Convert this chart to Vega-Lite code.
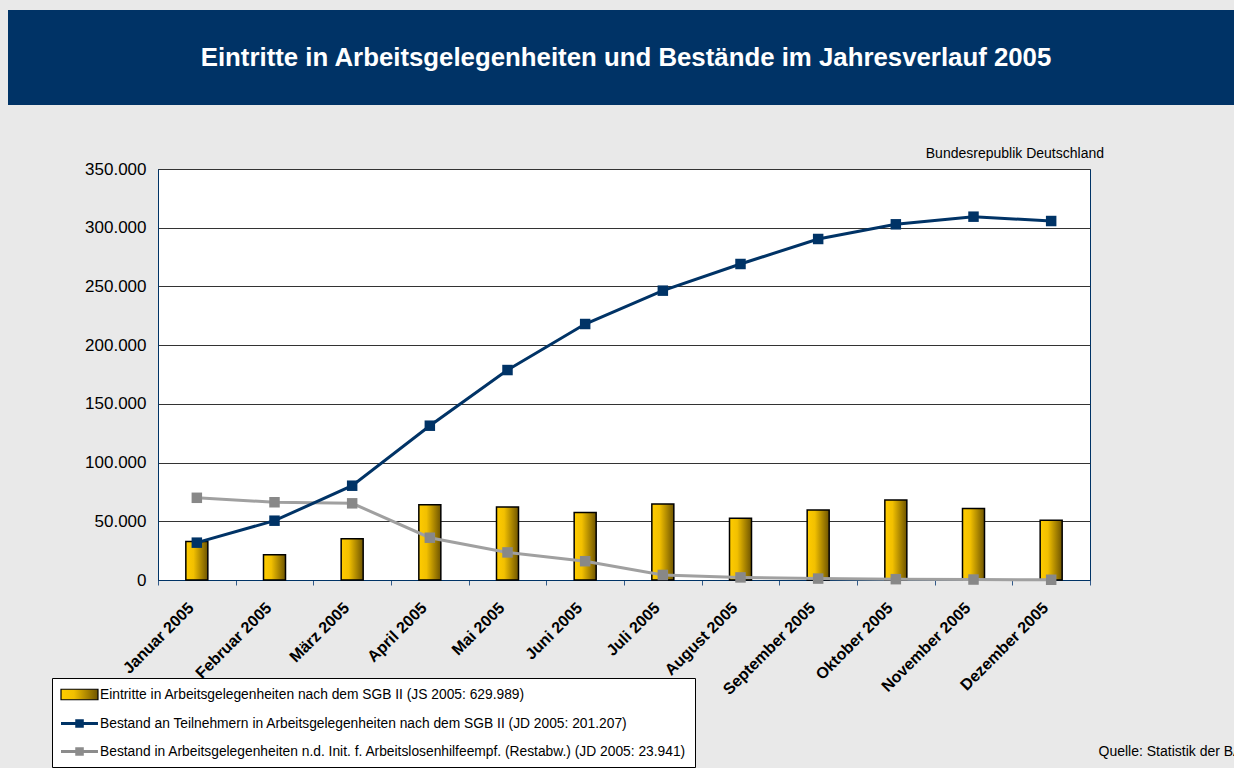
{
  "$schema": "https://vega.github.io/schema/vega-lite/v6.json",
  "background": "#e9e9e9",
  "padding": {"left": 8, "top": 10, "right": 0, "bottom": 0},
  "config": {"font": "Liberation Sans", "view": {"stroke": null}},
  "datasets": {
    "bars": [
      {"month": "Januar 2005", "value": 32800},
      {"month": "Februar 2005", "value": 21500},
      {"month": "März 2005", "value": 35200},
      {"month": "April 2005", "value": 64000},
      {"month": "Mai 2005", "value": 62200},
      {"month": "Juni 2005", "value": 57500},
      {"month": "Juli 2005", "value": 64700},
      {"month": "August 2005", "value": 52600},
      {"month": "September 2005", "value": 59600},
      {"month": "Oktober 2005", "value": 68100},
      {"month": "November 2005", "value": 60900},
      {"month": "Dezember 2005", "value": 50800}
    ],
    "lines": [
      {"month": "Januar 2005", "series": "Bestand in Arbeitsgelegenheiten n.d. Init. f. Arbeitslosenhilfeempf. (Restabw.) (JD 2005: 23.941)", "value": 70000},
      {"month": "Februar 2005", "series": "Bestand in Arbeitsgelegenheiten n.d. Init. f. Arbeitslosenhilfeempf. (Restabw.) (JD 2005: 23.941)", "value": 66200},
      {"month": "März 2005", "series": "Bestand in Arbeitsgelegenheiten n.d. Init. f. Arbeitslosenhilfeempf. (Restabw.) (JD 2005: 23.941)", "value": 65300},
      {"month": "April 2005", "series": "Bestand in Arbeitsgelegenheiten n.d. Init. f. Arbeitslosenhilfeempf. (Restabw.) (JD 2005: 23.941)", "value": 36000},
      {"month": "Mai 2005", "series": "Bestand in Arbeitsgelegenheiten n.d. Init. f. Arbeitslosenhilfeempf. (Restabw.) (JD 2005: 23.941)", "value": 23500},
      {"month": "Juni 2005", "series": "Bestand in Arbeitsgelegenheiten n.d. Init. f. Arbeitslosenhilfeempf. (Restabw.) (JD 2005: 23.941)", "value": 16000},
      {"month": "Juli 2005", "series": "Bestand in Arbeitsgelegenheiten n.d. Init. f. Arbeitslosenhilfeempf. (Restabw.) (JD 2005: 23.941)", "value": 4300},
      {"month": "August 2005", "series": "Bestand in Arbeitsgelegenheiten n.d. Init. f. Arbeitslosenhilfeempf. (Restabw.) (JD 2005: 23.941)", "value": 2200},
      {"month": "September 2005", "series": "Bestand in Arbeitsgelegenheiten n.d. Init. f. Arbeitslosenhilfeempf. (Restabw.) (JD 2005: 23.941)", "value": 1200},
      {"month": "Oktober 2005", "series": "Bestand in Arbeitsgelegenheiten n.d. Init. f. Arbeitslosenhilfeempf. (Restabw.) (JD 2005: 23.941)", "value": 700},
      {"month": "November 2005", "series": "Bestand in Arbeitsgelegenheiten n.d. Init. f. Arbeitslosenhilfeempf. (Restabw.) (JD 2005: 23.941)", "value": 400},
      {"month": "Dezember 2005", "series": "Bestand in Arbeitsgelegenheiten n.d. Init. f. Arbeitslosenhilfeempf. (Restabw.) (JD 2005: 23.941)", "value": 200},
      {"month": "Januar 2005", "series": "Bestand an Teilnehmern in Arbeitsgelegenheiten nach dem SGB II (JD 2005: 201.207)", "value": 31800},
      {"month": "Februar 2005", "series": "Bestand an Teilnehmern in Arbeitsgelegenheiten nach dem SGB II (JD 2005: 201.207)", "value": 50500},
      {"month": "März 2005", "series": "Bestand an Teilnehmern in Arbeitsgelegenheiten nach dem SGB II (JD 2005: 201.207)", "value": 80300},
      {"month": "April 2005", "series": "Bestand an Teilnehmern in Arbeitsgelegenheiten nach dem SGB II (JD 2005: 201.207)", "value": 131400},
      {"month": "Mai 2005", "series": "Bestand an Teilnehmern in Arbeitsgelegenheiten nach dem SGB II (JD 2005: 201.207)", "value": 178800},
      {"month": "Juni 2005", "series": "Bestand an Teilnehmern in Arbeitsgelegenheiten nach dem SGB II (JD 2005: 201.207)", "value": 218000},
      {"month": "Juli 2005", "series": "Bestand an Teilnehmern in Arbeitsgelegenheiten nach dem SGB II (JD 2005: 201.207)", "value": 246400},
      {"month": "August 2005", "series": "Bestand an Teilnehmern in Arbeitsgelegenheiten nach dem SGB II (JD 2005: 201.207)", "value": 269100},
      {"month": "September 2005", "series": "Bestand an Teilnehmern in Arbeitsgelegenheiten nach dem SGB II (JD 2005: 201.207)", "value": 290400},
      {"month": "Oktober 2005", "series": "Bestand an Teilnehmern in Arbeitsgelegenheiten nach dem SGB II (JD 2005: 201.207)", "value": 302900},
      {"month": "November 2005", "series": "Bestand an Teilnehmern in Arbeitsgelegenheiten nach dem SGB II (JD 2005: 201.207)", "value": 309400},
      {"month": "Dezember 2005", "series": "Bestand an Teilnehmern in Arbeitsgelegenheiten nach dem SGB II (JD 2005: 201.207)", "value": 305700}
    ]
  },
  "spacing": 41,
  "vconcat": [
    {
      "width": 1226,
      "height": 95,
      "view": {"fill": "#003366", "stroke": null},
      "data": {"values": [{"t": "Eintritte in Arbeitsgelegenheiten und Bestände im Jahresverlauf 2005"}]},
      "mark": {"type": "text", "color": "white", "fontSize": 25.8, "fontWeight": "bold", "font": "Liberation Sans", "dx": 5},
      "encoding": {"text": {"field": "t", "type": "nominal"}}
    },
    {
      "spacing": 0,
      "bounds": "flush",
      "hconcat": [
        {
          "width": 150,
          "height": 411,
          "view": {"fill": "#e9e9e9", "stroke": null},
          "data": {"values": [{"t": ""}]},
          "mark": "text",
          "encoding": {"text": {"field": "t", "type": "nominal"}}
        },
        {
          "width": 932,
          "height": 411,
          "view": {"fill": "white", "stroke": "#003366", "strokeWidth": 1},
          "title": {"text": "Bundesrepublik Deutschland", "anchor": "end", "frame": "group", "fontSize": 14, "fontWeight": "normal", "font": "Liberation Sans", "color": "black", "offset": -1, "dx": 14},
          "encoding": {
            "x": {
              "field": "month", "type": "ordinal", "sort": null,
              "scale": {"domain": ["Januar 2005", "Februar 2005", "März 2005", "April 2005", "Mai 2005", "Juni 2005", "Juli 2005", "August 2005", "September 2005", "Oktober 2005", "November 2005", "Dezember 2005"], "paddingInner": 0, "paddingOuter": 0},
              "axis": {
                "title": "Quelle: Statistik der BA", "titleX": 940, "titleY": 171, "titleAlign": "left", "titleBaseline": "middle",
                "titleFont": "Liberation Sans", "titleFontSize": 14, "titleFontWeight": "normal", "titleColor": "black",
                "labelAngle": -45, "labelAlign": "right", "labelBaseline": "middle", "labelPadding": 20, "labelOffset": -6,
                "labelFont": "Liberation Sans", "labelFontSize": 16, "labelFontWeight": "bold", "labelColor": "black", "labelOverlap": false, "labelLimit": 400,
                "tickBand": "extent", "tickSize": 5, "tickColor": "#335b8a", "domainColor": "#003366", "grid": false
              }
            },
            "y": {
              "field": "value", "type": "quantitative",
              "scale": {"domain": [0, 350000], "nice": false},
              "axis": {
                "title": null, "values": [0, 50000, 100000, 150000, 200000, 250000, 300000, 350000],
                "labelExpr": "replace(format(datum.value, ','), ',', '.')",
                "labelFont": "Liberation Sans", "labelFontSize": 17, "labelColor": "black", "labelPadding": 12,
                "ticks": false, "domainColor": "#003366", "grid": true, "gridColor": "#333333", "gridWidth": 1
              }
            }
          },
          "layer": [
            {
              "data": {"name": "bars"},
              "mark": {
                "type": "bar", "size": 22, "stroke": "black", "strokeWidth": 1.5,
                "fill": {"gradient": "linear", "x1": 0, "x2": 1, "y1": 0, "y2": 0, "stops": [{"offset": 0, "color": "#ffcc00"}, {"offset": 0.35, "color": "#f2c000"}, {"offset": 1, "color": "#6e5400"}]}
              }
            },
            {
              "data": {"name": "lines"},
              "mark": {"type": "line", "strokeWidth": 3},
              "encoding": {
                "stroke": {"field": "series", "type": "nominal", "legend": null,
                  "scale": {"domain": ["Bestand an Teilnehmern in Arbeitsgelegenheiten nach dem SGB II (JD 2005: 201.207)", "Bestand in Arbeitsgelegenheiten n.d. Init. f. Arbeitslosenhilfeempf. (Restabw.) (JD 2005: 23.941)"], "range": ["#003366", "#a0a0a0"]}}
              }
            },
            {
              "data": {"name": "lines"},
              "mark": {"type": "square", "filled": true, "size": 110, "opacity": 1, "strokeWidth": 0},
              "encoding": {
                "color": {
                  "field": "series", "type": "nominal", "legend": null,
                  "scale": {
                    "domain": ["Bestand an Teilnehmern in Arbeitsgelegenheiten nach dem SGB II (JD 2005: 201.207)", "Bestand in Arbeitsgelegenheiten n.d. Init. f. Arbeitslosenhilfeempf. (Restabw.) (JD 2005: 23.941)"],
                    "range": ["#003366", "#888888"]
                  }
                },
                "opacity": {
                  "field": "series", "type": "nominal",
                  "scale": {
                    "type": "ordinal",
                    "domain": ["Eintritte in Arbeitsgelegenheiten nach dem SGB II (JS 2005: 629.989)", "Bestand an Teilnehmern in Arbeitsgelegenheiten nach dem SGB II (JD 2005: 201.207)", "Bestand in Arbeitsgelegenheiten n.d. Init. f. Arbeitslosenhilfeempf. (Restabw.) (JD 2005: 23.941)"],
                    "range": [1, 1, 1]
                  },
                  "legend": {
                    "title": null, "orient": "none", "legendX": 44, "legendY": 668,
                    "fillColor": "white", "strokeColor": "black", "padding": 8,
                    "labelFont": "Liberation Sans", "labelFontSize": 13.8, "labelColor": "black", "labelLimit": 1000, "labelOffset": 23,
                    "symbolSize": 225, "rowPadding": 12,
                    "symbolType": {"expr": "indexof(datum.value, 'Eintritte') === 0 ? 'M-1,-0.7H3.93V0.7H-1Z' : 'M-1,-0.2H3.93V0.2H-1ZM0.9,-0.57H2.04V0.57H0.9Z'"},
                    "symbolFillColor": {"expr": "indexof(datum.value, 'Eintritte') === 0 ? {gradient: 'linear', stops: [{offset: 0, color: '#ffcc00'}, {offset: 0.35, color: '#f2c000'}, {offset: 1, color: '#6e5400'}]} : (indexof(datum.value, 'Bestand an') === 0 ? '#003366' : '#8c8c8c')"},
                    "symbolStrokeColor": {"expr": "indexof(datum.value, 'Eintritte') === 0 ? 'black' : 'transparent'"},
                    "symbolStrokeWidth": 1.2
                  }
                }
              }
            }
          ]
        }
      ]
    }
  ]
}
